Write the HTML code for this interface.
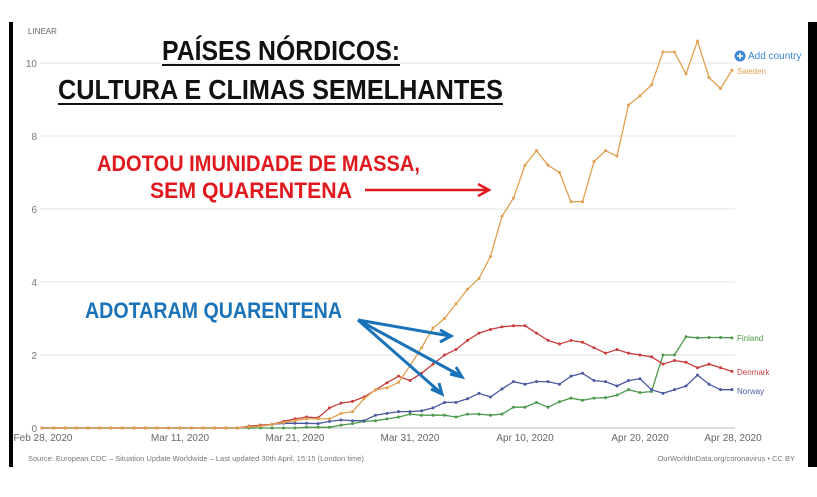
<!DOCTYPE html>
<html><head><meta charset="utf-8"><style>
html,body{margin:0;padding:0;background:#fff;width:817px;height:497px;overflow:hidden}
svg{display:block;font-family:"Liberation Sans",sans-serif}
</style></head><body>
<svg width="817" height="497" viewBox="0 0 817 497">
<rect x="9" y="22" width="4" height="445" fill="#000"/>
<rect x="808" y="22" width="9" height="445" fill="#000"/>
<text x="28" y="34" font-size="8" fill="#666">LINEAR</text>
<g stroke="#e6e6e6" stroke-width="1">
<line x1="40" x2="735" y1="63" y2="63"/><line x1="40" x2="735" y1="136" y2="136"/>
<line x1="40" x2="735" y1="209" y2="209"/><line x1="40" x2="735" y1="282" y2="282"/>
<line x1="40" x2="735" y1="355" y2="355"/>
</g>
<line x1="40" x2="735" y1="428" y2="428" stroke="#bbb"/>
<g font-size="10" fill="#777" text-anchor="end">
<text x="37" y="67">10</text><text x="37" y="140">8</text><text x="37" y="213">6</text>
<text x="37" y="286">4</text><text x="37" y="359">2</text><text x="37" y="432">0</text>
</g>
<g font-size="10" fill="#666" text-anchor="middle">
<text x="43" y="441">Feb 28, 2020</text><text x="180" y="441">Mar 11, 2020</text>
<text x="295" y="441">Mar 21, 2020</text><text x="410" y="441">Mar 31, 2020</text>
<text x="525" y="441">Apr 10, 2020</text><text x="640" y="441">Apr 20, 2020</text>
<text x="733" y="441">Apr 28, 2020</text>
</g>
<text x="28" y="461" font-size="7.5" fill="#777">Source: European CDC – Situation Update Worldwide – Last updated 30th April, 15:15 (London time)</text>
<text x="795" y="461" font-size="7.5" fill="#777" text-anchor="end">OurWorldInData.org/coronavirus • CC BY</text>
<g id="series" fill="none" stroke-width="1.3"></g>
<circle cx="740" cy="56" r="5.5" fill="#3a86d6"/>
<path d="M737 56h6M740 53v6" stroke="#fff" stroke-width="1.5"/>
<text x="748" y="59" font-size="10" fill="#3a86d6">Add country</text>
<g font-size="8">
<text x="737" y="74" fill="#e0a050">Sweden</text>
<text x="737" y="341" fill="#4a9a4a">Finland</text>
<text x="737" y="375" fill="#c83c3c">Denmark</text>
<text x="737" y="394" fill="#4a5aa0">Norway</text>
</g>
<g font-weight="bold">
<text x="162" y="60" font-size="28" textLength="238" lengthAdjust="spacingAndGlyphs" fill="#111">PAÍSES NÓRDICOS:</text>
<line x1="162" x2="400" y1="65" y2="65" stroke="#111" stroke-width="2"/>
<text x="58" y="99" font-size="28" textLength="445" lengthAdjust="spacingAndGlyphs" fill="#111">CULTURA E CLIMAS SEMELHANTES</text>
<line x1="58" x2="503" y1="104" y2="104" stroke="#111" stroke-width="2"/>
<text x="97" y="171" font-size="22" textLength="323" lengthAdjust="spacingAndGlyphs" fill="#e0191e">ADOTOU IMUNIDADE DE MASSA,</text>
<text x="150" y="198" font-size="22" textLength="202" lengthAdjust="spacingAndGlyphs" fill="#e0191e">SEM QUARENTENA</text>
<text x="85" y="318" font-size="22" textLength="257" lengthAdjust="spacingAndGlyphs" fill="#1a72b8">ADOTARAM QUARENTENA</text>
</g>
<g stroke="#e0191e" stroke-width="2.5" fill="none"><line x1="365" y1="190" x2="488" y2="190"/><path d="M478 184L489 190L478 196"/></g>
<g stroke="#1a72b8" stroke-width="3" fill="none">
<line x1="358" y1="320" x2="450" y2="336"/><path d="M440 330L451 336L440 342"/>
<line x1="358" y1="320" x2="461" y2="376"/><path d="M450 374L462 377L456 367"/>
<line x1="358" y1="320" x2="441" y2="393"/><path d="M431 389L442 394L439 383"/>
</g>
</svg>
<script>
const S=[0,0,0,0,0,0,0,0,0,0,0,0,0,0,0,0,0,0,0.03,0.05,0.1,0.15,0.2,0.25,0.25,0.25,0.4,0.45,0.8,1.05,1.1,1.25,1.7,2.2,2.74,3.0,3.4,3.8,4.1,4.7,5.8,6.3,7.2,7.6,7.2,7.0,6.2,6.2,7.3,7.6,7.45,8.85,9.1,9.4,10.3,10.3,9.7,10.6,9.6,9.3,9.8];
const D=[0,0,0,0,0,0,0,0,0,0,0,0,0,0,0,0,0,0,0.05,0.08,0.1,0.18,0.25,0.3,0.28,0.55,0.68,0.73,0.85,1.04,1.24,1.42,1.3,1.5,1.75,2.0,2.15,2.4,2.6,2.7,2.77,2.8,2.8,2.6,2.4,2.3,2.4,2.35,2.2,2.05,2.15,2.05,2.0,1.95,1.75,1.85,1.8,1.65,1.75,1.65,1.55];
const N=[0,0,0,0,0,0,0,0,0,0,0,0,0,0,0,0,0,0,0.03,0.05,0.1,0.13,0.13,0.13,0.12,0.18,0.22,0.2,0.2,0.35,0.4,0.45,0.45,0.47,0.55,0.7,0.7,0.8,0.95,0.85,1.07,1.27,1.2,1.27,1.27,1.2,1.42,1.5,1.3,1.27,1.15,1.3,1.35,1.05,0.95,1.05,1.15,1.45,1.2,1.05,1.05];
const F=[0,0,0,0,0,0,0,0,0,0,0,0,0,0,0,0,0,0,0,0,0,0,0,0.02,0.02,0.02,0.08,0.12,0.18,0.2,0.25,0.3,0.38,0.35,0.35,0.35,0.3,0.38,0.38,0.35,0.38,0.57,0.57,0.7,0.57,0.72,0.82,0.76,0.82,0.83,0.9,1.05,0.97,1.0,2.0,2.0,2.5,2.47,2.48,2.48,2.47];
const g=document.getElementById('series');const ns='http://www.w3.org/2000/svg';
[[F,'#4a9a4a'],[N,'#4a5aa0'],[D,'#c83c3c'],[S,'#e0a050']].forEach(([a,c])=>{
let p=a.map((v,i)=>(42+11.5*i).toFixed(1)+','+(428-36.5*v).toFixed(1)).join(' ');
let pl=document.createElementNS(ns,'polyline');pl.setAttribute('points',p);pl.setAttribute('stroke',c);g.appendChild(pl);
a.forEach((v,i)=>{let ci=document.createElementNS(ns,'circle');ci.setAttribute('cx',42+11.5*i);ci.setAttribute('cy',428-36.5*v);ci.setAttribute('r',1.5);ci.setAttribute('fill',c);g.appendChild(ci);});
});
</script>
</body></html>
